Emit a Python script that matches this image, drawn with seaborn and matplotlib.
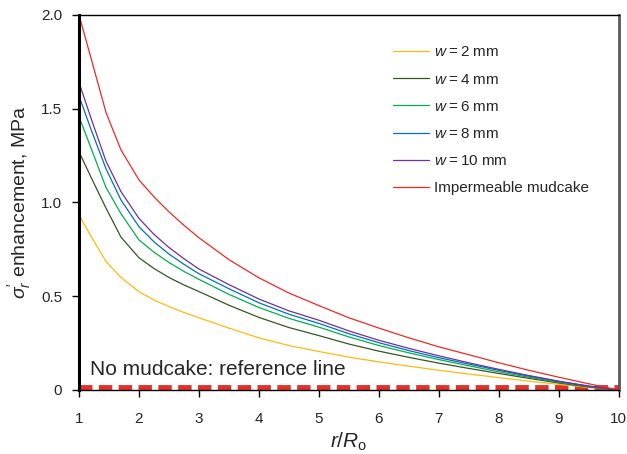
import pandas as pd
import matplotlib
matplotlib.use("Agg")
import matplotlib.pyplot as plt
import seaborn as sns

# radial position r/Ro
r_ratio = [1, 1.2, 1.45, 1.7, 2, 2.25, 2.5, 2.75, 3, 3.5, 4, 4.5, 5, 5.5, 6, 6.5, 7, 7.5, 8, 8.5, 9, 9.5, 10]

# effective radial stress enhancement (MPa)
w2 = [0.933, 0.82, 0.685, 0.60, 0.524, 0.48, 0.445, 0.413, 0.385, 0.33, 0.278, 0.237, 0.205, 0.175,
      0.15, 0.127, 0.105, 0.085, 0.066, 0.047, 0.03, 0.013, 0.0]
w4 = [1.27, 1.135, 0.97, 0.815, 0.705, 0.648, 0.60, 0.56, 0.525, 0.452, 0.387, 0.333, 0.29, 0.245,
      0.207, 0.174, 0.143, 0.115, 0.088, 0.062, 0.037, 0.016, 0.0]
w6 = [1.458, 1.29, 1.08, 0.94, 0.80, 0.735, 0.68, 0.632, 0.59, 0.51, 0.44, 0.382, 0.335, 0.283,
      0.237, 0.198, 0.162, 0.129, 0.097, 0.068, 0.041, 0.018, 0.0]
w8 = [1.568, 1.39, 1.18, 1.013, 0.871, 0.79, 0.725, 0.67, 0.62, 0.54, 0.465, 0.404, 0.355, 0.30,
      0.252, 0.21, 0.172, 0.138, 0.105, 0.074, 0.045, 0.02, 0.0]
w10 = [1.64, 1.45, 1.22, 1.058, 0.915, 0.83, 0.76, 0.70, 0.645, 0.562, 0.485, 0.422, 0.372, 0.315,
       0.265, 0.222, 0.182, 0.145, 0.11, 0.077, 0.047, 0.021, 0.0]
impermeable = [2.0, 1.77, 1.48, 1.28, 1.12, 1.03, 0.95, 0.878, 0.812, 0.695, 0.598, 0.517, 0.45,
               0.385, 0.33, 0.278, 0.23, 0.188, 0.145, 0.105, 0.068, 0.033, 0.0]

# no mudcake reference
ref_x = [1, 10]
ref_y = [0.008, 0.008]

labels = ["$w$\u2009=\u20092 mm", "$w$\u2009=\u20094 mm", "$w$\u2009=\u20096 mm",
          "$w$\u2009=\u20098 mm", "$w$\u2009=\u200910 mm", "Impermeable mudcake"]
series = [w2, w4, w6, w8, w10, impermeable]
colors = ["#FFB90F", "#375623", "#00B050", "#0070C0", "#7030A0", "#EE2A24"]

x_ticks = list(range(1, 11))
y_ticks = [0, 0.5, 1.0, 1.5, 2.0]
y_ticklabels = ["0", "0.5", "1.0", "1.5", "2.0"]

# long-form table for seaborn
frames = []
for lab, vals in zip(labels, series):
    frames.append(pd.DataFrame({"r": r_ratio, "sigma": vals, "case": lab}))
df = pd.concat(frames, ignore_index=True)

sns.set_style("ticks")
plt.rcParams["font.family"] = ["Liberation Sans", "DejaVu Sans"]
plt.rcParams["mathtext.fontset"] = "custom"
plt.rcParams["mathtext.rm"] = "Liberation Sans"
plt.rcParams["mathtext.it"] = "Liberation Sans:italic"

fig, ax = plt.subplots(figsize=(6.27, 4.54), dpi=100)
fig.subplots_adjust(left=0.126, right=0.987, top=0.967, bottom=0.141)

sns.lineplot(ax=ax, data=df, x="r", y="sigma", hue="case", hue_order=labels,
             palette=dict(zip(labels, colors)), linewidth=0.9, sort=False)

# reference line for the no-mudcake case
ax.plot(ref_x, ref_y, color="#E2312B", linewidth=4.2, linestyle=(0, (2.3, 1.1)),
        zorder=1, clip_on=False)
ax.text(1.18, 0.11, "No mudcake: reference line", fontsize=15, va="center", ha="left")

ax.set_xlim(1, 10)
ax.set_ylim(0, 2.0)
ax.set_xticks(x_ticks)
ax.set_yticks(y_ticks)
ax.set_yticklabels(y_ticklabels)
ax.tick_params(axis="both", labelsize=11, length=5, width=1, color="black")
ax.tick_params(axis="x", pad=11)
ax.tick_params(axis="y", pad=7)

ax.set_xlabel(r"$r/R_{\mathrm{o}}$", fontsize=15, labelpad=3)
ax.set_ylabel(r"$\sigma_r'$ enhancement, MPa", fontsize=14, labelpad=6)

for side in ["top", "bottom"]:
    ax.spines[side].set_color("black")
    ax.spines[side].set_linewidth(1.0)
ax.spines["left"].set_color("black")
ax.spines["left"].set_linewidth(2.2)
ax.spines["right"].set_color("#595959")
ax.spines["right"].set_linewidth(2.0)

ax.legend(loc="upper left", bbox_to_anchor=(0.57, 0.935), frameon=False, fontsize=11,
          handlelength=2.4, handletextpad=0.3, labelspacing=0.86, borderaxespad=0)

plt.savefig("out.png", dpi=100)
